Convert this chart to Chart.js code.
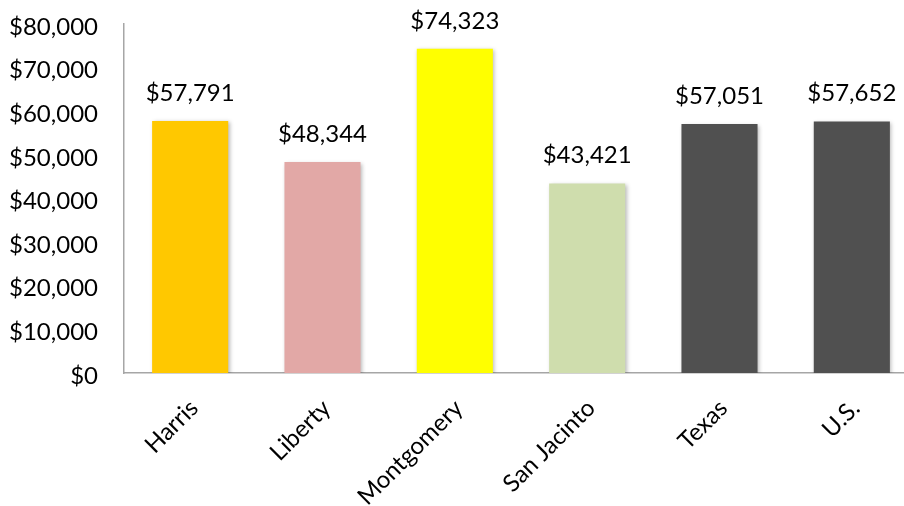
<!DOCTYPE html>
<html>
<head>
<meta charset="utf-8">
<script src="https://cdn.jsdelivr.net/npm/chart.js@4/dist/chart.umd.min.js"></script>
<style>
  html, body { margin: 0; padding: 0; background: #fff; overflow: hidden; }
  #wrap { position: relative; width: 918px; height: 506px; }
</style>
</head>
<body>
<div id="wrap"><canvas id="c"></canvas></div>
<script>
const categories = ['Harris', 'Liberty', 'Montgomery', 'San Jacinto', 'Texas', 'U.S.'];
const incomes = [57791, 48344, 74323, 43421, 57051, 57652];
const barColors = ['#FFC800', '#E2A8A6', '#FFFF00', '#CFDDAD', '#505050', '#505050'];
const yTickMax = 80000;
const yTickStep = 10000;

const money = v => '$' + Number(v).toLocaleString('en-US');
const FONT = { family: 'Lato', size: 24 };

const barLabels = {
  id: 'barLabels',
  afterDatasetsDraw(chart) {
    const ctx = chart.ctx;
    const meta = chart.getDatasetMeta(0);
    ctx.save();
    ctx.font = FONT.size + 'px ' + FONT.family;
    ctx.fillStyle = '#000';
    ctx.textAlign = 'center';
    ctx.textBaseline = 'middle';
    meta.data.forEach((bar, i) => {
      ctx.fillText(money(chart.data.datasets[0].data[i]), bar.x, bar.y - 28);
    });
    ctx.restore();
  }
};

const barShadow = {
  id: 'barShadow',
  beforeDatasetDraw(chart) {
    const ctx = chart.ctx;
    ctx.save();
    ctx.shadowColor = 'rgba(0,0,0,0.28)';
    ctx.shadowBlur = 4;
    ctx.shadowOffsetX = 1.5;
    ctx.shadowOffsetY = 1.5;
  },
  afterDatasetDraw(chart) {
    chart.ctx.restore();
  }
};

new Chart(document.getElementById('c'), {
  type: 'bar',
  data: {
    labels: categories,
    datasets: [{
      data: incomes,
      backgroundColor: barColors,
      borderWidth: 0,
      categoryPercentage: 1,
      barPercentage: 0.575
    }]
  },
  options: {
    responsive: true,
    maintainAspectRatio: false,
    animation: false,
    devicePixelRatio: 1,
    layout: { padding: { top: 24, right: 0, left: 0, bottom: 0 } },
    plugins: { legend: { display: false }, tooltip: { enabled: false } },
    scales: {
      x: {
        grid: { display: false, drawTicks: false },
        border: { display: true, color: '#A6A6A6', width: 1.5 },
        ticks: {
          color: '#000', font: FONT, maxRotation: 45, minRotation: 45,
          padding: 21, autoSkip: false, labelOffset: 4
        },
        afterFit(scale) { scale.height = 133; }
      },
      y: {
        min: 0, max: yTickMax,
        grid: { display: false, drawTicks: false },
        border: { display: true, color: '#A6A6A6', width: 1.5 },
        ticks: {
          stepSize: yTickStep, color: '#000', font: FONT, padding: 26,
          labelOffset: 3,
          callback: v => money(v)
        },
        afterFit(scale) { scale.width = 124; scale.paddingTop = 0; scale.paddingBottom = 0; }
      }
    }
  },
  plugins: [barShadow, barLabels]
});
</script>
</body>
</html>
